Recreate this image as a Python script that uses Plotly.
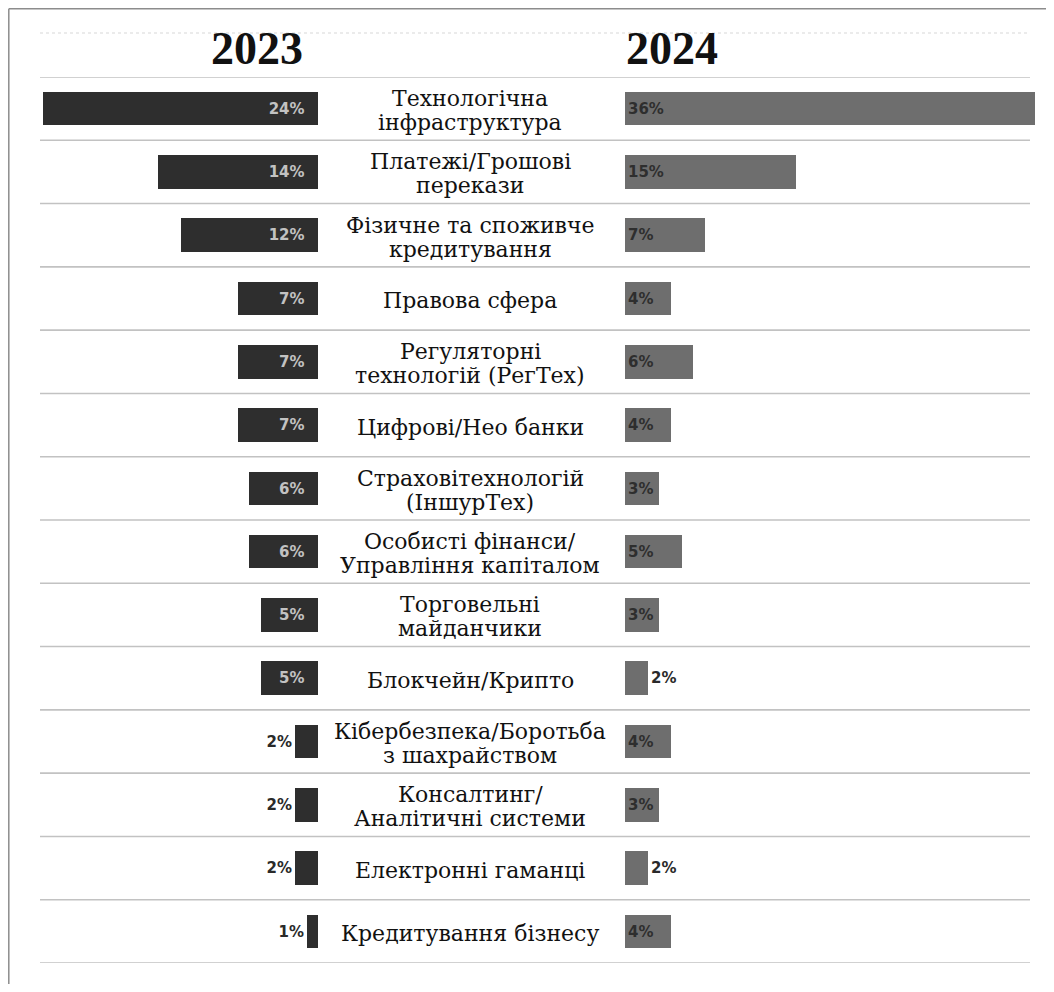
import plotly.graph_objects as go

categories = [
    "Технологічна<br>інфраструктура",
    "Платежі/Грошові<br>перекази",
    "Фізичне та споживче<br>кредитування",
    "Правова сфера",
    "Регуляторні<br>технологій (РегТех)",
    "Цифрові/Нео банки",
    "Страховітехнологій<br>(ІншурТех)",
    "Особисті фінанси/<br>Управління капіталом",
    "Торговельні<br>майданчики",
    "Блокчейн/Крипто",
    "Кібербезпека/Боротьба<br>з шахрайством",
    "Консалтинг/<br>Аналітичні системи",
    "Електронні гаманці",
    "Кредитування бізнесу",
]
values_2023 = [24, 14, 12, 7, 7, 7, 6, 6, 5, 5, 2, 2, 2, 1]
values_2024 = [36, 15, 7, 4, 6, 4, 3, 5, 3, 2, 4, 3, 2, 4]
year_labels = ["2023", "2024"]

# page body has an 8px margin; figure is sized to fit inside the window
OFF = 8
W, H = 1038, 976
px = lambda v: (v - OFF) / W
py = lambda v: 1 - (v - OFF) / H

rows = list(range(len(categories)))

pos23 = ["inside" if v >= 3 else "outside" for v in values_2023]
pos24 = ["inside" if v >= 3 else "outside" for v in values_2024]
NB = "\u00a0\u00a0"
text23 = [f"{v}%{NB}" if p == "inside" else f"{v}%" for v, p in zip(values_2023, pos23)]
text24 = [f"{v}%" for v in values_2024]

BARFONT = "DejaVu Sans"
fig = go.Figure()
fig.add_trace(go.Bar(
    x=values_2023, y=rows, orientation="h", xaxis="x", yaxis="y",
    marker=dict(color="#2e2e2e", line=dict(width=0)),
    width=0.53,
    text=text23, textposition=pos23,
    insidetextanchor="start",
    insidetextfont=dict(family=BARFONT, size=15, color="#c2c2c2", weight="bold"),
    outsidetextfont=dict(family=BARFONT, size=15, color="#2a2a2a", weight="bold"),
    cliponaxis=False, hoverinfo="skip", showlegend=False,
))
fig.add_trace(go.Bar(
    x=values_2024, y=rows, orientation="h", xaxis="x2", yaxis="y",
    marker=dict(color="#6e6e6e", line=dict(width=0)),
    width=0.53,
    text=text24, textposition=pos24,
    insidetextanchor="start",
    insidetextfont=dict(family=BARFONT, size=15, color="#2e2e2e", weight="bold"),
    outsidetextfont=dict(family=BARFONT, size=15, color="#2a2a2a", weight="bold"),
    cliponaxis=False, hoverinfo="skip", showlegend=False,
))

shapes = []
for k in range(len(categories) + 1):
    shapes.append(dict(type="line", xref="paper", yref="y",
                       x0=px(40), x1=px(1030), y0=k - 0.5, y1=k - 0.5,
                       line=dict(color="#c2c2c2", width=1.6)))
shapes.append(dict(type="line", xref="paper", yref="paper",
                   x0=px(40), x1=px(1030), y0=py(33), y1=py(33),
                   line=dict(color="#d8d8d8", width=1.2, dash="dot")))
# frame border (top and left)
shapes.append(dict(type="line", xref="paper", yref="paper",
                   x0=0.8 / W, x1=1, y0=1 - 0.8 / H, y1=1 - 0.8 / H,
                   line=dict(color="#8c8c8c", width=1.5)))
shapes.append(dict(type="line", xref="paper", yref="paper",
                   x0=0.8 / W, x1=0.8 / W, y0=1 - 0.8 / H, y1=0,
                   line=dict(color="#8c8c8c", width=1.5)))

LINE_GAP = 24
annotations = []
for i, c in enumerate(categories):
    lines = c.split("<br>")
    n = len(lines)
    for j, ln in enumerate(lines):
        shift = ((n - 1) / 2 - j) * LINE_GAP - 2
        annotations.append(dict(x=px(470), y=i, xref="paper", yref="y", yshift=shift,
                                text=ln, showarrow=False, xanchor="center", yanchor="middle",
                                font=dict(family="DejaVu Serif", size=22, color="#111111")))
annotations.append(dict(x=px(257), y=py(48), xref="paper", yref="paper",
                        text=f"<b>{year_labels[0]}</b>", showarrow=False,
                        xanchor="center", yanchor="middle",
                        font=dict(family="Liberation Serif", size=46, color="#111111")))
annotations.append(dict(x=px(672), y=py(48), xref="paper", yref="paper",
                        text=f"<b>{year_labels[1]}</b>", showarrow=False,
                        xanchor="center", yanchor="middle",
                        font=dict(family="Liberation Serif", size=46, color="#111111")))

fig.update_layout(
    width=W, height=H,
    margin=dict(l=0, r=0, t=0, b=0),
    paper_bgcolor="white", plot_bgcolor="white",
    bargap=0,
    xaxis=dict(domain=[px(43), px(318)], range=[24, 0], visible=False, fixedrange=True),
    xaxis2=dict(domain=[px(625), px(1035)], range=[0, 36], visible=False, fixedrange=True,
                anchor="y"),
    yaxis=dict(domain=[py(963), py(77)], range=[13.5, -0.5], visible=False, fixedrange=True),
    shapes=shapes,
    annotations=annotations,
)

fig.write_html("out.html")
